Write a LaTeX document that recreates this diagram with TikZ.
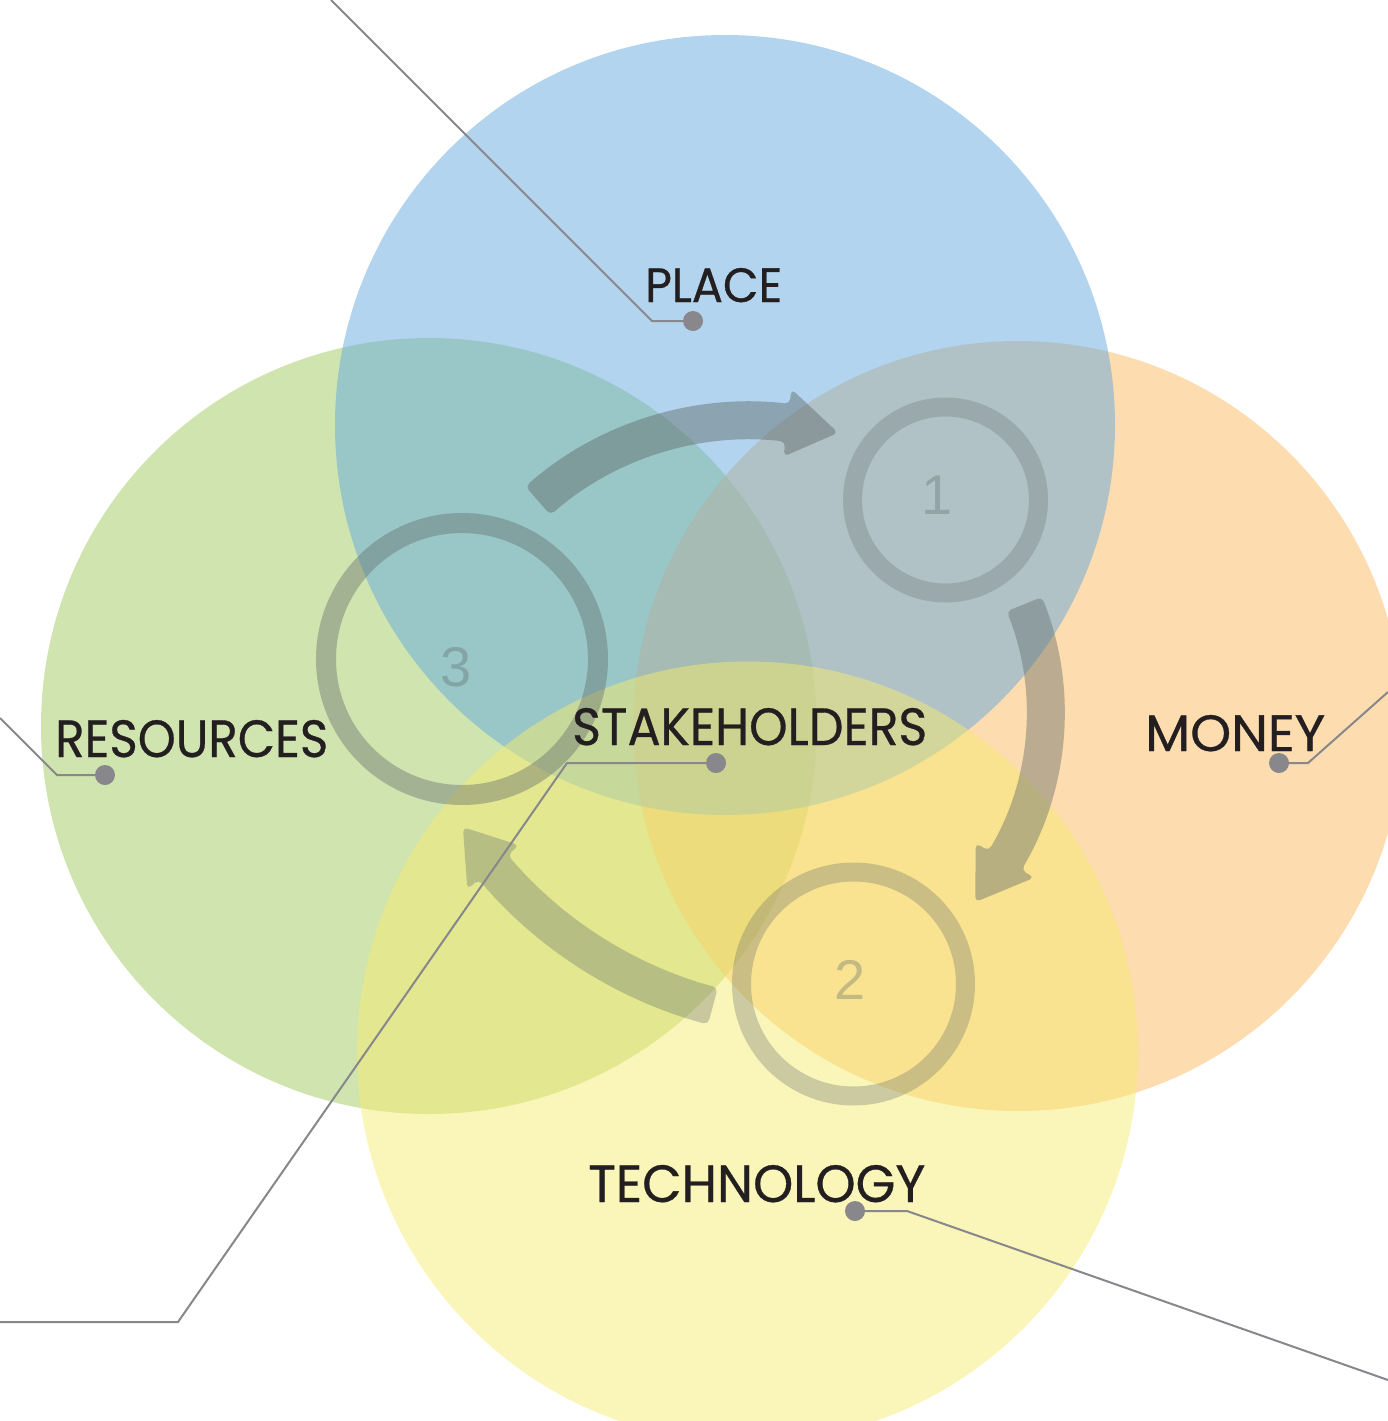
\documentclass[tikz,border=0pt]{standalone}
\usepackage{fontspec}
\setmainfont{Poppins}
\newfontfamily\lblfont{Poppins}[FakeBold=0.6]
\newfontfamily\numfont{Liberation Sans}
\usepackage{graphicx}
\definecolor{cBlue}{RGB}{101,169,223}
\definecolor{cGreen}{RGB}{159,201,95}
\definecolor{cOrange}{RGB}{251,185,95}
\definecolor{cYellow}{RGB}{245,235,113}
\definecolor{cGrey}{RGB}{95,105,105}
\definecolor{cConn}{RGB}{135,135,140}
\definecolor{cText}{RGB}{35,31,32}
\tikzset{
  venn/.style={fill opacity=0.5},
  ringline/.style={draw=cGrey, line width=19pt},
  arrowfill/.style={fill=cGrey, rounded corners=5pt},
  lbl/.style={inner sep=0pt, anchor=base west, text=cText, font=\lblfont},
  numlbl/.style={inner sep=0pt, text=cGrey, text opacity=0.35, font=\numfont\fontsize{56}{56}\selectfont},
  conn/.style={draw=cConn, line width=2pt},
  dot/.style={circle, fill=cConn, inner sep=0pt, minimum size=20pt},
}
% #1,#2 centre, #3 radius, #4 tail angle, #5 head-base angle, #6 tip angle, #7 opacity
\newcommand{\curvarr}[7]{%
  \fill[arrowfill, fill opacity=#7, shift={(#1,#2)}]
    (#4:{#3+19}) arc[start angle=#4, end angle=#5, radius={#3+19}]
    -- (#5:{#3+34}) -- (#6:#3) -- (#5:{#3-34}) -- (#5:{#3-19})
    arc[start angle=#5, end angle=#4, radius={#3-19}] -- cycle;}
\begin{document}
\begin{tikzpicture}[x=1pt,y=-1pt]
\useasboundingbox (0,0) rectangle (1388,1421);
\begin{scope}
\clip (0,0) rectangle (1388,1421);
% Venn circles
\fill[cGreen, venn] (429,726) circle[radius=388];
\fill[cOrange, venn] (1018,726) circle[radius=385];
\fill[cBlue, venn] (725,425) circle[radius=390];
\fill[cYellow, venn] (747.5,1052) circle[radius=390.5];
% cycle arrows
\curvarr{750.5}{742.6}{322}{-131.3}{-83.4}{-74.2}{0.45}
\curvarr{754.3}{712.7}{291}{-21.9}{30.5}{40.6}{0.42}
\curvarr{826}{584}{437}{105}{139.6}{146.2}{0.32}
% rings
\draw[ringline, draw opacity=0.28] (945.5,500) circle[radius=93];
\draw[ringline, draw opacity=0.3] (853.5,984) circle[radius=112];
\draw[ringline, draw opacity=0.4, line width=20pt] (462,659) circle[radius=136];
\node[numlbl] (n1) at (937,495) {1};
\node[numlbl] (n2) at (850,980) {2};
\node[numlbl] (n3) at (456,667) {3};
% labels
\node[lbl] (place) at (645,302) {\resizebox{137pt}{34pt}{PLACE}};
\node[lbl] (stake) at (572,745) {\resizebox{355pt}{37pt}{STAKEHOLDERS}};
\node[lbl] (res) at (55,757) {\resizebox{273pt}{37pt}{RESOURCES}};
\node[lbl] (money) at (1145,751) {\resizebox{180pt}{36pt}{MONEY}};
\node[lbl] (tech) at (588,1202) {\resizebox{337pt}{37pt}{TECHNOLOGY}};
% leader lines
\node[dot] (dPlace) at (693,321) {};
\node[dot] (dRes) at (105,775) {};
\node[dot] (dStake) at (716,763) {};
\node[dot] (dMoney) at (1279,763) {};
\node[dot] (dTech) at (855,1211) {};
\coordinate (bPlace) at (652,321);
\coordinate (ePlace) at (331,0);
\coordinate (bRes) at (57,775);
\coordinate (eRes) at (0,718);
\coordinate (bStake) at (567,763);
\coordinate (kStake) at (178,1322);
\coordinate (eStake) at (0,1322);
\coordinate (bMoney) at (1308,763);
\coordinate (eMoney) at (1388,692);
\coordinate (bTech) at (907,1211);
\coordinate (eTech) at (1388,1380);
\draw[conn] (dPlace) -- (bPlace) -- (ePlace);
\draw[conn] (dRes) -- (bRes) -- (eRes);
\draw[conn] (dStake) -- (bStake) -- (kStake) -- (eStake);
\draw[conn] (dMoney) -- (bMoney) -- (eMoney);
\draw[conn] (dTech) -- (bTech) -- (eTech);
\end{scope}
\end{tikzpicture}
\end{document}
